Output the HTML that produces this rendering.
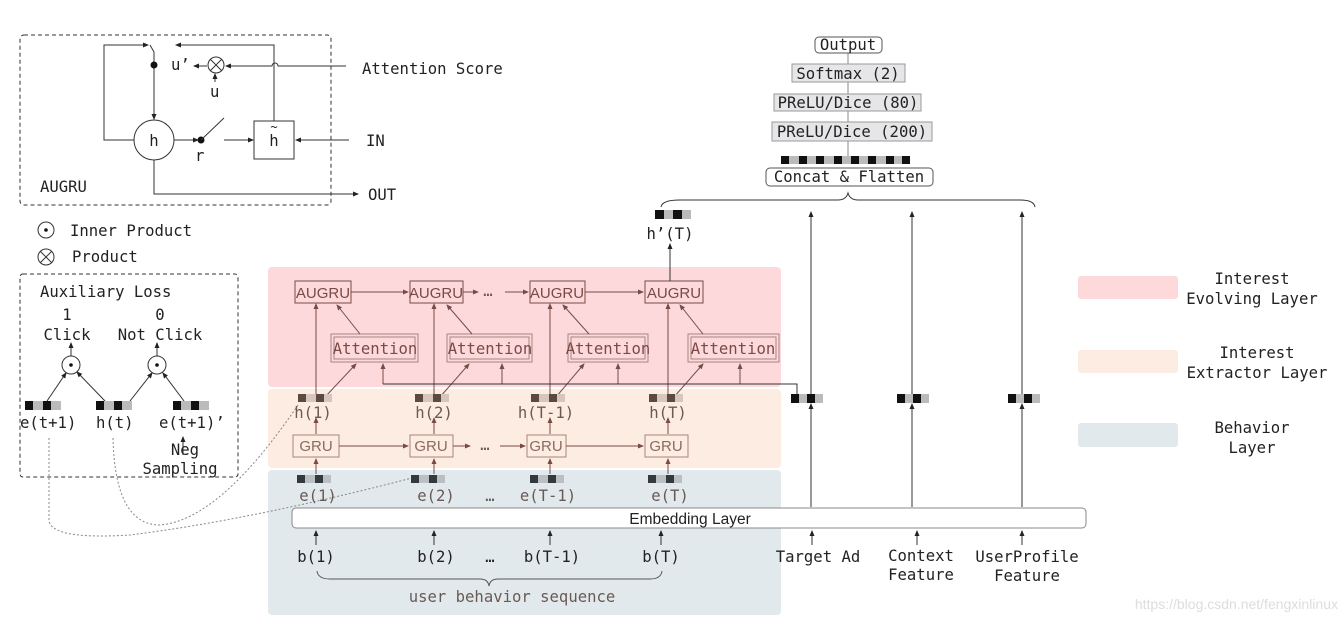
<!DOCTYPE html>
<html><head><meta charset="utf-8"><style>
html,body{margin:0;padding:0;background:#fff}
svg{display:block}
.m{font-family:"DejaVu Sans Mono","Liberation Mono",monospace;font-size:15.6px;fill:#222}
.s{font-family:"Liberation Sans",sans-serif;font-size:15px;fill:#7a4a45}
.sg{font-family:"Liberation Sans",sans-serif;font-size:15px;fill:#8a6a60}
.hm{font-family:"DejaVu Sans Mono","Liberation Mono",monospace;font-size:15.6px;fill:#6a5a55}
</style></head><body>
<svg width="1342" height="621" viewBox="0 0 1342 621" xmlns="http://www.w3.org/2000/svg">
<defs>
<marker id="a" markerWidth="6" markerHeight="6" refX="5" refY="3" orient="auto" markerUnits="userSpaceOnUse"><path d="M0,0.5 L6,3 L0,5.5z" fill="#222"/></marker>
<marker id="b" markerWidth="6" markerHeight="6" refX="5" refY="3" orient="auto" markerUnits="userSpaceOnUse"><path d="M0,0.5 L6,3 L0,5.5z" fill="#7a4a45"/></marker>
</defs>
<rect x="268" y="267" width="513" height="120" rx="4" fill="#fdd9dc"/>
<rect x="268" y="389" width="513" height="79" rx="4" fill="#fdece1"/>
<rect x="268" y="470" width="513" height="145" rx="4" fill="#e1e9ec"/>
<rect x="1078" y="276" width="100" height="23" rx="3" fill="#fdd9dc"/>
<rect x="1078" y="350" width="100" height="23" rx="3" fill="#fdece1"/>
<rect x="1078" y="423" width="100" height="24" rx="3" fill="#e1e9ec"/>
<text class="m" x="1252" y="284" text-anchor="middle">Interest</text>
<text class="m" x="1252" y="304" text-anchor="middle">Evolving Layer</text>
<text class="m" x="1257" y="358" text-anchor="middle">Interest</text>
<text class="m" x="1257" y="378" text-anchor="middle">Extractor Layer</text>
<text class="m" x="1252" y="433" text-anchor="middle">Behavior</text>
<text class="m" x="1252" y="453" text-anchor="middle">Layer</text>

<rect x="20" y="35" width="311" height="170" rx="4" fill="none" stroke="#333" stroke-dasharray="4,3"/>
<text class="m" x="40" y="192">AUGRU</text>
<circle cx="154" cy="140" r="20" fill="#fff" stroke="#333"/>
<text class="m" x="154" y="146" text-anchor="middle">h</text>
<rect x="254" y="121" width="40" height="38" fill="#fff" stroke="#333"/>
<text class="m" x="274" y="146" text-anchor="middle">h</text>
<text class="m" x="274" y="131" text-anchor="middle" style="font-size:12px">~</text>
<path d="M134,140 H104 V45 H148" fill="none" stroke="#333" marker-end="url(#a)"/>
<path d="M150,45 L154,52 V119" fill="none" stroke="#333" marker-end="url(#a)"/>
<circle cx="154" cy="65" r="3.5" fill="#111"/>
<text class="m" x="171" y="70">u’</text>
<path d="M207,66 H194" fill="none" stroke="#333" marker-end="url(#a)"/>
<circle cx="216" cy="65" r="8" fill="#fff" stroke="#333"/>
<path d="M210,59 L222,71 M222,59 L210,71" stroke="#333"/>
<path d="M215,82 V74" stroke="#333" marker-end="url(#a)"/>
<text class="m" x="210" y="97">u</text>
<path d="M274,121 V45 H176" fill="none" stroke="#333" marker-end="url(#a)"/>
<path d="M346,66 H278 a3,3 0 0 0 -6,0 H226" fill="none" stroke="#333" marker-end="url(#a)"/>
<text class="m" x="362" y="74">Attention Score</text>
<path d="M174,140 H198" stroke="#333" marker-end="url(#a)"/>
<circle cx="201" cy="140" r="3.5" fill="#111"/>
<path d="M201,140 L224,118" stroke="#333"/>
<text class="m" x="195" y="161">r</text>
<path d="M224,140 H253" stroke="#333" marker-end="url(#a)"/>
<path d="M349,140 H296" stroke="#333" marker-end="url(#a)"/>
<text class="m" x="366" y="146">IN</text>
<path d="M154,160 V194 H358" fill="none" stroke="#333" marker-end="url(#a)"/>
<text class="m" x="368" y="200">OUT</text>

<circle cx="46" cy="230" r="8" fill="#fff" stroke="#333"/><circle cx="46" cy="230" r="1.8" fill="#111"/>
<text class="m" x="70" y="236">Inner Product</text>
<circle cx="46" cy="257" r="8" fill="#fff" stroke="#333"/><path d="M40,251 L52,263 M52,251 L40,263" stroke="#333"/>
<text class="m" x="72" y="262">Product</text>

<rect x="20" y="274" width="218" height="203" rx="3" fill="none" stroke="#333" stroke-dasharray="4,3"/>
<text class="m" x="40" y="297">Auxiliary Loss</text>
<text class="m" x="67" y="320" text-anchor="middle">1</text>
<text class="m" x="67" y="340" text-anchor="middle">Click</text>
<text class="m" x="160" y="320" text-anchor="middle">0</text>
<text class="m" x="160" y="340" text-anchor="middle">Not Click</text>
<circle cx="71" cy="365" r="9" fill="#fff" stroke="#333"/><circle cx="71" cy="365" r="1.8" fill="#111"/>
<circle cx="157" cy="365" r="9" fill="#fff" stroke="#333"/><circle cx="157" cy="365" r="1.8" fill="#111"/>
<path d="M71,356 V343" stroke="#333" marker-end="url(#a)"/>
<path d="M157,356 V343" stroke="#333" marker-end="url(#a)"/>
<path d="M47,401 L66,373" stroke="#333" marker-end="url(#a)"/>
<path d="M105,401 L77,372" stroke="#333" marker-end="url(#a)"/>
<path d="M130,401 L152,373" stroke="#333" marker-end="url(#a)"/>
<path d="M184,401 L163,373" stroke="#333" marker-end="url(#a)"/>
<g id="v1"><rect x="25" y="401" width="36" height="9" fill="#bbb"/><rect x="25" y="401" width="8" height="9" fill="#111"/><rect x="43" y="401" width="8" height="9" fill="#111"/></g>
<use href="#v1" x="71"/><use href="#v1" x="148"/>
<text class="m" x="20" y="428">e(t+1)</text>
<text class="m" x="96" y="428">h(t)</text>
<text class="m" x="159" y="428">e(t+1)’</text>
<path d="M183,455 V437" stroke="#333" marker-end="url(#a)"/>
<text class="m" x="185" y="455" text-anchor="middle">Neg</text>
<text class="m" x="180" y="474" text-anchor="middle">Sampling</text>
<path d="M49,438 V520 Q50,540 130,535 Q250,520 412,478" fill="none" stroke="#888" stroke-dasharray="2,2"/>
<path d="M113,438 Q115,525 160,525 Q220,520 298,405" fill="none" stroke="#888" stroke-dasharray="2,2"/>

<g stroke="#7a4a45" fill="none">
<rect x="295" y="281" width="56" height="22"/>
<rect x="410" y="281" width="53" height="22"/>
<rect x="530" y="281" width="55" height="22"/>
<rect x="645" y="281" width="58" height="22"/>
<g stroke="#a8857f">
<rect x="331" y="334" width="87" height="28"/><rect x="334" y="337" width="81" height="22"/>
<rect x="447" y="334" width="85" height="28"/><rect x="450" y="337" width="79" height="22"/>
<rect x="568" y="334" width="80" height="28"/><rect x="571" y="337" width="74" height="22"/>
<rect x="688" y="334" width="91" height="28"/><rect x="691" y="337" width="85" height="22"/>
</g>
<path d="M351,292 H408" marker-end="url(#b)"/>
<path d="M463,292 H478" marker-end="url(#b)"/>
<path d="M505,292 H528" marker-end="url(#b)"/>
<path d="M585,292 H643" marker-end="url(#b)"/>
<path d="M316,397 V304" marker-end="url(#b)"/><path d="M434,397 V304" marker-end="url(#b)"/>
<path d="M550,397 V304" marker-end="url(#b)"/><path d="M668,397 V304" marker-end="url(#b)"/>
<path d="M360,334 L337,305" marker-end="url(#b)"/><path d="M472,334 L447,305" marker-end="url(#b)"/>
<path d="M589,334 L563,305" marker-end="url(#b)"/><path d="M703,334 L680,305" marker-end="url(#b)"/>
<path d="M325,397 L356,364" marker-end="url(#b)"/><path d="M440,397 L469,364" marker-end="url(#b)"/>
<path d="M556,397 L584,364" marker-end="url(#b)"/><path d="M674,397 L703,364" marker-end="url(#b)"/>
<path d="M383,384 V364" marker-end="url(#b)"/><path d="M502,384 V364" marker-end="url(#b)"/>
<path d="M618,384 V364" marker-end="url(#b)"/><path d="M740,384 V364" marker-end="url(#b)"/>
<g stroke="#a8857f">
<rect x="293" y="435" width="46" height="22"/>
<rect x="410" y="435" width="43" height="22"/>
<rect x="527" y="435" width="39" height="22"/>
<rect x="645" y="435" width="43" height="22"/>
</g>
<path d="M339,446 H408" marker-end="url(#b)"/>
<path d="M453,446 H470" marker-end="url(#b)"/>
<path d="M500,446 H525" marker-end="url(#b)"/>
<path d="M566,446 H643" marker-end="url(#b)"/>
<path d="M316,434 V418" marker-end="url(#b)"/><path d="M434,434 V418" marker-end="url(#b)"/>
<path d="M550,434 V418" marker-end="url(#b)"/><path d="M668,434 V418" marker-end="url(#b)"/>
<path d="M316,474 V459" marker-end="url(#b)"/><path d="M434,474 V459" marker-end="url(#b)"/>
<path d="M550,474 V459" marker-end="url(#b)"/><path d="M668,474 V459" marker-end="url(#b)"/>
</g>
<path d="M383,384 H797 V394" fill="none" stroke="#333"/>
<text class="s" x="323" y="298" text-anchor="middle">AUGRU</text>
<text class="s" x="436" y="298" text-anchor="middle">AUGRU</text>
<text class="s" x="557" y="298" text-anchor="middle">AUGRU</text>
<text class="s" x="674" y="298" text-anchor="middle">AUGRU</text>
<text class="hm" x="488" y="296" text-anchor="middle">…</text>
<text class="m" x="375" y="354" text-anchor="middle" style="fill:#7a4a45">Attention</text>
<text class="m" x="490" y="354" text-anchor="middle" style="fill:#7a4a45">Attention</text>
<text class="m" x="608" y="354" text-anchor="middle" style="fill:#7a4a45">Attention</text>
<text class="m" x="733" y="354" text-anchor="middle" style="fill:#7a4a45">Attention</text>
<g id="hv"><rect x="298" y="394" width="34" height="8" fill="#d6c6bd"/><rect x="298" y="394" width="8" height="8" fill="#5a4a40"/><rect x="316" y="394" width="8" height="8" fill="#5a4a40"/></g>
<use href="#hv" x="117"/><use href="#hv" x="233"/><use href="#hv" x="351"/>
<text class="hm" x="313" y="418" text-anchor="middle">h(1)</text>
<text class="hm" x="434" y="418" text-anchor="middle">h(2)</text>
<text class="hm" x="546" y="418" text-anchor="middle">h(T-1)</text>
<text class="hm" x="668" y="418" text-anchor="middle">h(T)</text>
<text class="sg" x="316" y="451" text-anchor="middle">GRU</text>
<text class="sg" x="431" y="451" text-anchor="middle">GRU</text>
<text class="sg" x="546" y="451" text-anchor="middle">GRU</text>
<text class="sg" x="666" y="451" text-anchor="middle">GRU</text>
<text class="hm" x="485" y="450" text-anchor="middle">…</text>
<g id="ev"><rect x="297" y="475" width="34" height="8" fill="#b9bfc2"/><rect x="297" y="475" width="8" height="8" fill="#333a3e"/><rect x="315" y="475" width="8" height="8" fill="#333a3e"/></g>
<use href="#ev" x="114"/><use href="#ev" x="233"/><use href="#ev" x="351"/>
<text class="hm" x="318" y="501" text-anchor="middle">e(1)</text>
<text class="hm" x="436" y="501" text-anchor="middle">e(2)</text>
<text class="hm" x="490" y="501" text-anchor="middle">…</text>
<text class="hm" x="548" y="501" text-anchor="middle">e(T-1)</text>
<text class="hm" x="670" y="501" text-anchor="middle">e(T)</text>
<rect x="292" y="508" width="794" height="20" rx="4" fill="#fff" stroke="#888"/>
<text x="690" y="524" text-anchor="middle" style="font-family:'Liberation Sans',sans-serif;font-size:15.5px;fill:#222">Embedding Layer</text>
<g stroke="#333">
<path d="M316,545 V531" marker-end="url(#a)"/><path d="M434,545 V531" marker-end="url(#a)"/>
<path d="M550,545 V531" marker-end="url(#a)"/><path d="M661,545 V531" marker-end="url(#a)"/>
<path d="M812,545 V531" marker-end="url(#a)"/><path d="M917,545 V531" marker-end="url(#a)"/><path d="M1022,545 V531" marker-end="url(#a)"/>
<path d="M811,507 V404" marker-end="url(#a)"/><path d="M912,507 V404" marker-end="url(#a)"/><path d="M1022,507 V404" marker-end="url(#a)"/>
<path d="M811,394 V212" marker-end="url(#a)"/><path d="M912,394 V212" marker-end="url(#a)"/><path d="M1022,394 V212" marker-end="url(#a)"/>
<path d="M670,281 V244" marker-end="url(#a)"/>
</g>
<text class="m" x="316" y="562" text-anchor="middle">b(1)</text>
<text class="m" x="436" y="562" text-anchor="middle">b(2)</text>
<text class="m" x="490" y="562" text-anchor="middle">…</text>
<text class="m" x="552" y="562" text-anchor="middle">b(T-1)</text>
<text class="m" x="661" y="562" text-anchor="middle">b(T)</text>
<path d="M317,571 Q318,579 330,579 H480 Q488,579 489,586 Q490,579 498,579 H650 Q661,579 662,571" fill="none" stroke="#555"/>
<text class="hm" x="512" y="602" text-anchor="middle">user behavior sequence</text>
<text class="m" x="818" y="562" text-anchor="middle">Target Ad</text>
<text class="m" x="921" y="561" text-anchor="middle">Context</text>
<text class="m" x="921" y="580" text-anchor="middle">Feature</text>
<text class="m" x="1027" y="562" text-anchor="middle">UserProfile</text>
<text class="m" x="1027" y="581" text-anchor="middle">Feature</text>
<g id="fv"><rect x="791" y="394" width="32" height="9" fill="#bbb"/><rect x="791" y="394" width="8" height="9" fill="#111"/><rect x="807" y="394" width="8" height="9" fill="#111"/></g>
<use href="#fv" x="106"/><use href="#fv" x="217"/>
<g><rect x="655" y="210" width="36" height="9" fill="#bbb"/><rect x="655" y="210" width="9" height="9" fill="#111"/><rect x="673" y="210" width="9" height="9" fill="#111"/></g>
<text class="m" x="670" y="239" text-anchor="middle">h’(T)</text>
<path d="M661,207 Q662,200 680,200 H838 Q846,200 848,193 Q850,200 858,200 H1020 Q1034,200 1035,207" fill="none" stroke="#333"/>
<path d="M848,43 V160" stroke="#888"/>
<rect x="766" y="168" width="167" height="18" rx="4" fill="#fff" stroke="#555"/>
<text class="m" x="849" y="182" text-anchor="middle">Concat &amp; Flatten</text>
<rect x="781" y="156" width="129" height="8" fill="#bbb"/>
<g fill="#111"><rect x="781" y="156" width="8" height="8"/><rect x="799" y="156" width="8" height="8"/><rect x="816" y="156" width="8" height="8"/><rect x="834" y="156" width="8" height="8"/><rect x="851" y="156" width="8" height="8"/><rect x="868" y="156" width="8" height="8"/><rect x="886" y="156" width="8" height="8"/><rect x="902" y="156" width="8" height="8"/></g>
<rect x="772" y="122" width="160" height="19" fill="#e6e6e8" stroke="#999"/>
<text class="m" x="852" y="137" text-anchor="middle">PReLU/Dice (200)</text>
<rect x="774" y="94" width="147" height="17" fill="#e6e6e8" stroke="#999"/>
<text class="m" x="848" y="108" text-anchor="middle">PReLU/Dice (80)</text>
<rect x="792" y="64" width="113" height="18" fill="#e6e6e8" stroke="#999"/>
<text class="m" x="848" y="79" text-anchor="middle">Softmax (2)</text>
<rect x="815" y="37" width="67" height="16" rx="4" fill="#fff" stroke="#555"/>
<text class="m" x="848" y="50" text-anchor="middle">Output</text>
<text x="1338" y="609" text-anchor="end" style="font-family:'Liberation Sans',sans-serif;font-size:14px;fill:#ddd">https://blog.csdn.net/fengxinlinux</text>
</svg>
</body></html>
